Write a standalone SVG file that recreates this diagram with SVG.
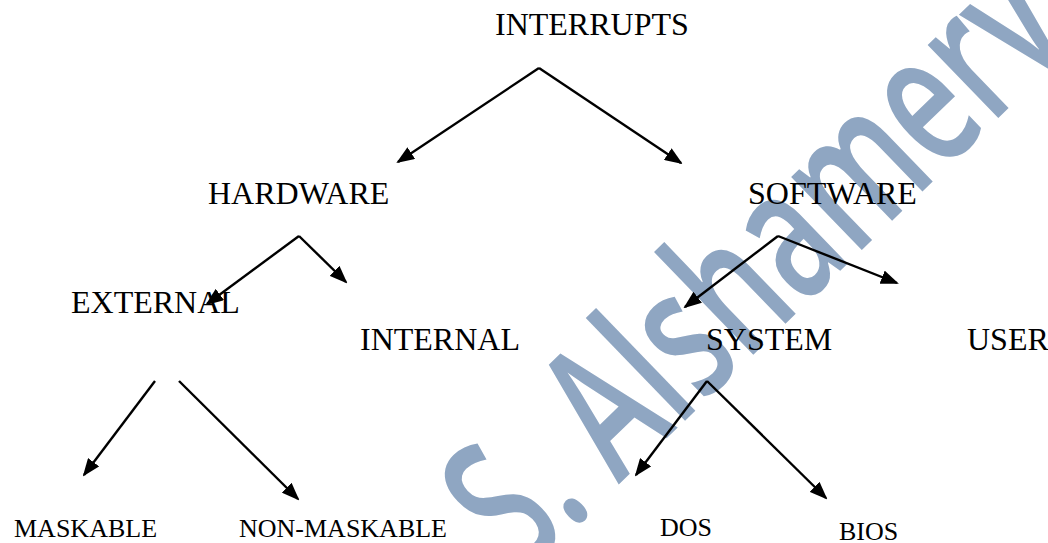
<svg xmlns="http://www.w3.org/2000/svg" width="1048" height="543" viewBox="0 0 1048 543">
  <style>
    .lbl { font-family: "Liberation Serif", "Times New Roman", serif; font-size: 32px; fill: #000; }
    .sm { font-size: 26px; }
    .wm { font-family: "Open Sans", "Noto Sans", sans-serif; font-size: 188px; font-weight: 600; fill: #8FA6C2; }
    .conn line { stroke: #000; stroke-width: 2.4; fill: none; marker-end: url(#ah); }
  </style>
  <defs>
    <marker id="ah" viewBox="0 0 18 14" refX="16" refY="7" markerWidth="18" markerHeight="14" markerUnits="userSpaceOnUse" orient="auto">
      <path d="M0,0 L18,7 L0,14 z" fill="#000"/>
    </marker>
  </defs>
  <rect width="1048" height="543" fill="#fff"/>
  <text class="wm" x="0" y="0" transform="translate(522 578) rotate(-44) scale(0.66 1)">S. Alshamery</text>

  <g id="connectors" class="conn">
    <line x1="539" y1="68" x2="398" y2="162"/>
    <line x1="539" y1="68" x2="681" y2="163"/>
    <line x1="299" y1="236" x2="207" y2="304"/>
    <line x1="299" y1="236" x2="346" y2="282"/>
    <line x1="778" y1="236" x2="685" y2="307"/>
    <line x1="778" y1="236" x2="897" y2="283"/>
    <line x1="155" y1="381" x2="84" y2="475"/>
    <line x1="179" y1="381" x2="298" y2="499"/>
    <line x1="707" y1="381" x2="636" y2="475"/>
    <line x1="707" y1="381" x2="826" y2="498"/>
  </g>

  <g id="n-interrupts"><text class="lbl" x="495" y="35">INTERRUPTS</text></g>
  <g id="n-hardware"><text class="lbl" x="208" y="204">HARDWARE</text></g>
  <g id="n-software"><text class="lbl" x="748" y="204">SOFTWARE</text></g>
  <g id="n-external"><text class="lbl" x="71" y="313">EXTERNAL</text></g>
  <g id="n-internal"><text class="lbl" x="360" y="350">INTERNAL</text></g>
  <g id="n-system"><text class="lbl" x="706" y="350">SYSTEM</text></g>
  <g id="n-user"><text class="lbl" x="967" y="350">USER</text></g>
  <g id="n-maskable"><text class="lbl sm" x="14" y="537">MASKABLE</text></g>
  <g id="n-nonmaskable"><text class="lbl sm" x="239" y="537">NON-MASKABLE</text></g>
  <g id="n-dos"><text class="lbl sm" x="660" y="536">DOS</text></g>
  <g id="n-bios"><text class="lbl sm" x="839" y="540">BIOS</text></g>
</svg>
